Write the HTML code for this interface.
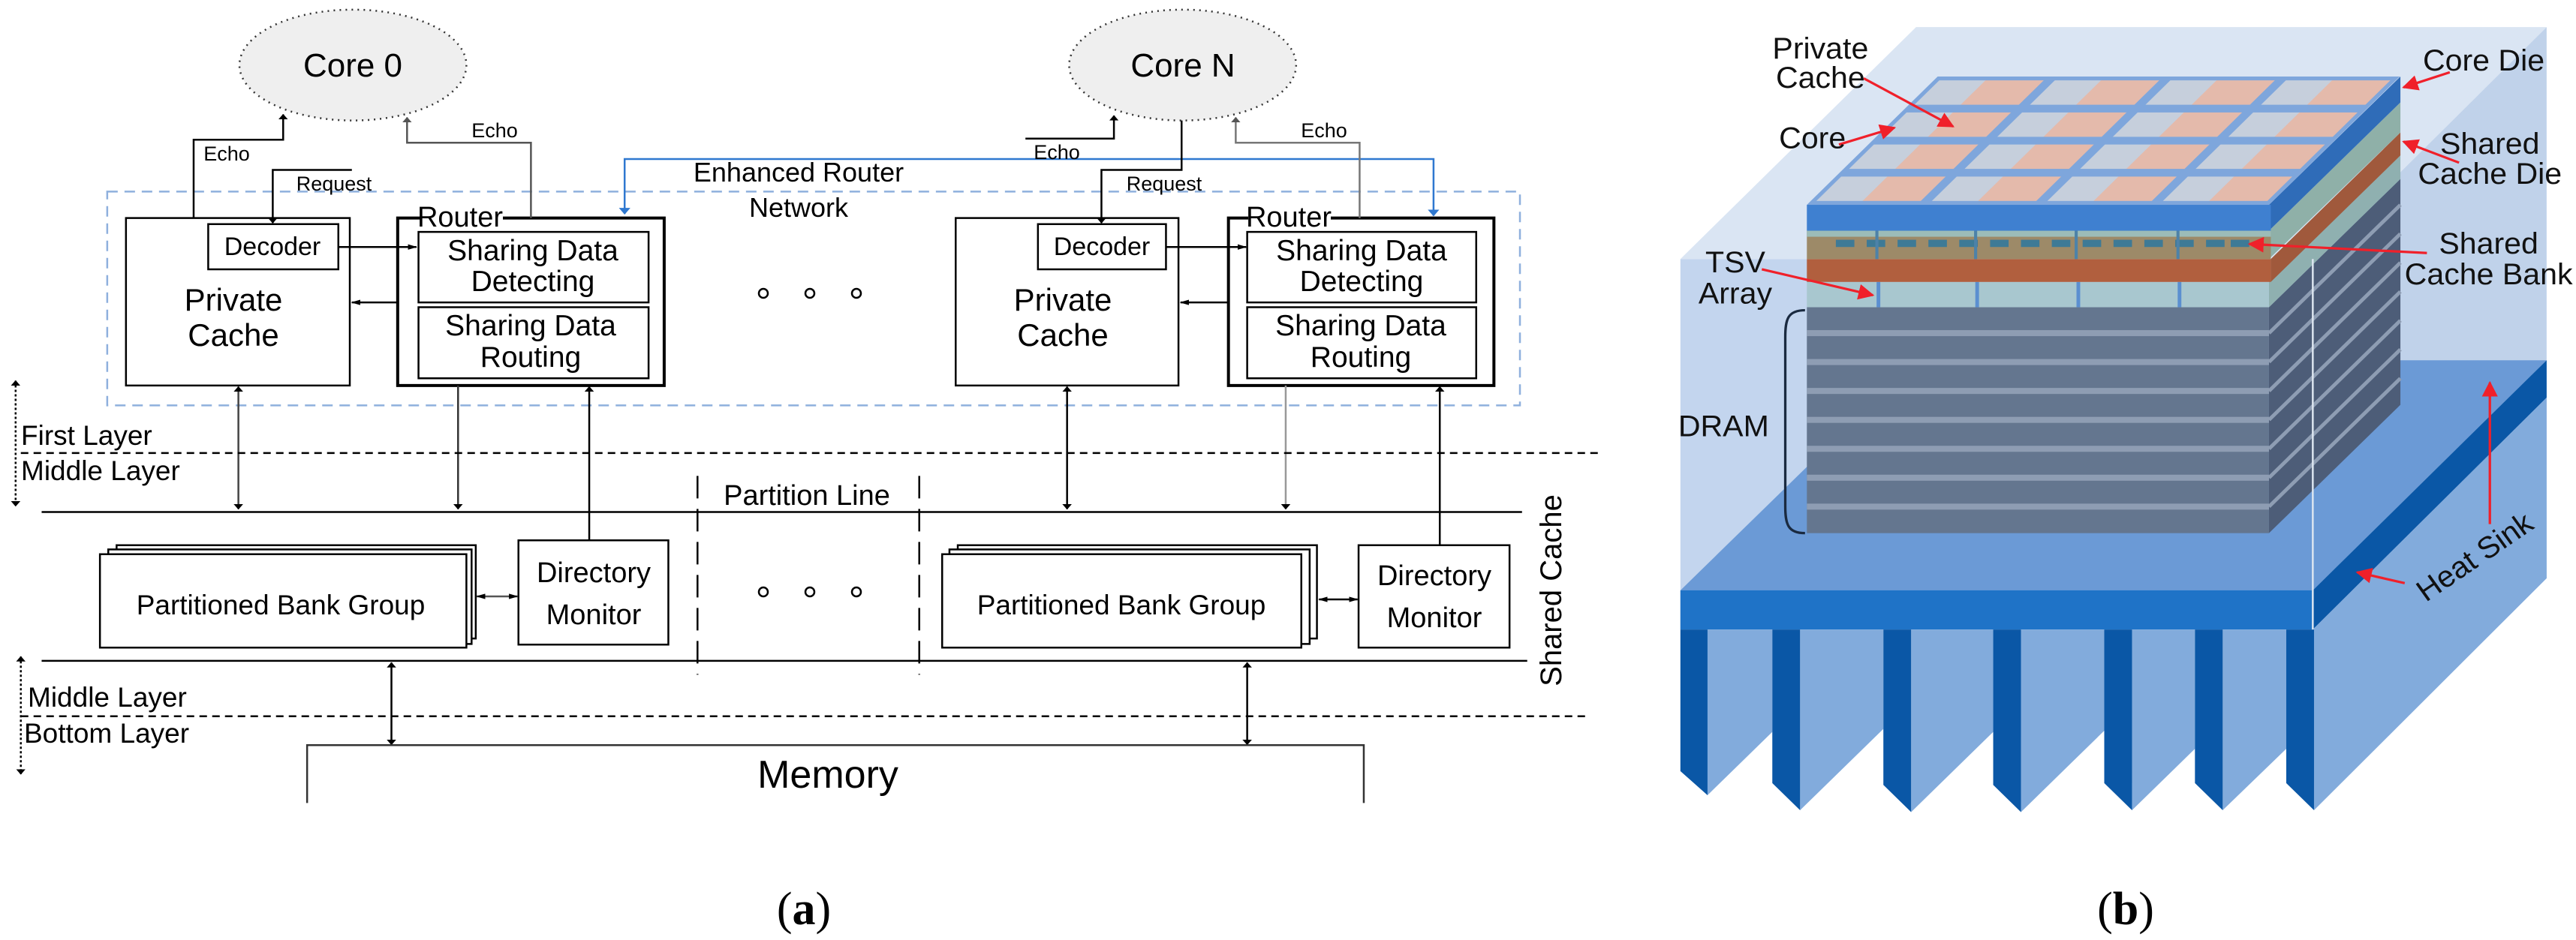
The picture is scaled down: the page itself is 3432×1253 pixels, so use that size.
<!DOCTYPE html>
<html><head><meta charset="utf-8"><style>
html,body{margin:0;padding:0;background:#fff}
svg{display:block}
.t{font-family:"Liberation Sans",sans-serif;fill:#000;text-anchor:middle}
</style></head><body>
<svg width="3432" height="1253" viewBox="0 0 3432 1253" xmlns="http://www.w3.org/2000/svg">
<defs>
<marker id="ah" viewBox="0 0 10 10" refX="9" refY="5" markerWidth="9" markerHeight="9" markerUnits="userSpaceOnUse" orient="auto-start-reverse"><path d="M0,0 L10,5 L0,10 z" fill="#000"/></marker>
<marker id="ag" viewBox="0 0 10 10" refX="9" refY="5" markerWidth="9" markerHeight="9" markerUnits="userSpaceOnUse" orient="auto-start-reverse"><path d="M0,0 L10,5 L0,10 z" fill="#555"/></marker>
<marker id="ab" viewBox="0 0 10 10" refX="9" refY="5" markerWidth="11" markerHeight="11" markerUnits="userSpaceOnUse" orient="auto-start-reverse"><path d="M0,0 L10,5 L0,10 z" fill="#2f78d0"/></marker>
<marker id="ar" viewBox="0 0 10 10" refX="9" refY="5" markerWidth="26" markerHeight="26" markerUnits="userSpaceOnUse" orient="auto"><path d="M0,0 L10,5 L0,10 z" fill="#f0202a"/></marker>
<pattern id="cell" patternUnits="userSpaceOnUse" width="0.25" height="0.25">
<rect x="0" y="0" width="0.25" height="0.25" fill="#7ea6dc"/>
<rect x="0.012" y="0.03" width="0.1" height="0.19" fill="#c6cfdc"/>
<rect x="0.112" y="0.03" width="0.126" height="0.19" fill="#e4baab"/>
</pattern>
</defs>

<!-- ===== (a) shapes in zoom coords ===== -->
<g transform="scale(1.387,0.803)" fill="none" stroke="#000" stroke-width="2.5">
<g vector-effect="non-scaling-stroke">
<ellipse cx="339" cy="108" rx="109" ry="92" fill="#efefef" stroke="#333" stroke-dasharray="2,6" vector-effect="non-scaling-stroke"/>
<ellipse cx="1136" cy="108" rx="109" ry="92" fill="#efefef" stroke="#333" stroke-dasharray="2,6" vector-effect="non-scaling-stroke"/>
<rect x="103" y="318" width="1357" height="355" stroke="#8fb0dd" stroke-dasharray="14,9" vector-effect="non-scaling-stroke"/>
<!-- left -->
<rect x="121" y="362" width="215" height="278" vector-effect="non-scaling-stroke"/>
<rect x="200" y="372" width="125" height="75" vector-effect="non-scaling-stroke"/>
<rect x="382" y="362" width="256" height="278" stroke-width="4" vector-effect="non-scaling-stroke"/>
<rect x="402" y="385" width="221" height="117" vector-effect="non-scaling-stroke"/>
<rect x="402" y="510" width="221" height="118" vector-effect="non-scaling-stroke"/>
<!-- right -->
<rect x="918" y="362" width="214" height="278" vector-effect="non-scaling-stroke"/>
<rect x="997" y="372" width="123" height="75" vector-effect="non-scaling-stroke"/>
<rect x="1180" y="362" width="255" height="278" stroke-width="4" vector-effect="non-scaling-stroke"/>
<rect x="1198" y="385" width="220" height="117" vector-effect="non-scaling-stroke"/>
<rect x="1198" y="510" width="220" height="118" vector-effect="non-scaling-stroke"/>
<!-- internal arrows -->
<line x1="325" y1="410" x2="400" y2="410" marker-end="url(#ah)" vector-effect="non-scaling-stroke"/>
<line x1="382" y1="502" x2="338" y2="502" marker-end="url(#ah)" vector-effect="non-scaling-stroke"/>
<line x1="1120" y1="410" x2="1197" y2="410" marker-end="url(#ah)" vector-effect="non-scaling-stroke"/>
<line x1="1180" y1="502" x2="1134" y2="502" marker-end="url(#ah)" vector-effect="non-scaling-stroke"/>
<!-- echo/request -->
<polyline points="186,362 186,232 272,232 272,190" marker-end="url(#ah)" vector-effect="non-scaling-stroke"/>
<polyline points="338,282 262,282 262,370" marker-end="url(#ah)" vector-effect="non-scaling-stroke"/>
<polyline points="510,362 510,237 391,237 391,195" stroke="#555" marker-end="url(#ag)" vector-effect="non-scaling-stroke"/>
<polyline points="600,355 600,264 1377,264 1377,358" stroke="#2f78d0" marker-start="url(#ab)" marker-end="url(#ab)" vector-effect="non-scaling-stroke"/>
<polyline points="985,230 1070,230 1070,192" marker-end="url(#ah)" vector-effect="non-scaling-stroke"/>
<polyline points="1135,200 1135,282 1058,282 1058,370" marker-end="url(#ah)" vector-effect="non-scaling-stroke"/>
<polyline points="1306,362 1306,237 1187,237 1187,195" stroke="#777" marker-end="url(#ag)" vector-effect="non-scaling-stroke"/>
<!-- verticals -->
<line x1="229" y1="642" x2="229" y2="845" stroke="#444" marker-start="url(#ah)" marker-end="url(#ah)" vector-effect="non-scaling-stroke"/>
<line x1="440" y1="640" x2="440" y2="845" stroke="#333" marker-end="url(#ah)" vector-effect="non-scaling-stroke"/>
<line x1="566" y1="897" x2="566" y2="642" marker-end="url(#ah)" vector-effect="non-scaling-stroke"/>
<line x1="1025" y1="642" x2="1025" y2="845" marker-start="url(#ah)" marker-end="url(#ah)" vector-effect="non-scaling-stroke"/>
<line x1="1235" y1="640" x2="1235" y2="845" stroke="#999" marker-end="url(#ah)" vector-effect="non-scaling-stroke"/>
<line x1="1383" y1="905" x2="1383" y2="642" marker-end="url(#ah)" vector-effect="non-scaling-stroke"/>
<!-- layer lines -->
<line x1="20" y1="752" x2="1535" y2="752" stroke-dasharray="10,7" vector-effect="non-scaling-stroke"/>
<line x1="40" y1="850" x2="1462" y2="850" vector-effect="non-scaling-stroke"/>
<line x1="40" y1="1097" x2="1467" y2="1097" vector-effect="non-scaling-stroke"/>
<line x1="20" y1="1189" x2="1525" y2="1189" stroke-dasharray="10,7" vector-effect="non-scaling-stroke"/>
<line x1="670" y1="790" x2="670" y2="1120" stroke-dasharray="30,14" vector-effect="non-scaling-stroke"/>
<line x1="883" y1="790" x2="883" y2="1120" stroke-dasharray="30,14" vector-effect="non-scaling-stroke"/>
<!-- bank groups -->
<rect x="112" y="905" width="345" height="155" fill="#fff" vector-effect="non-scaling-stroke"/>
<rect x="104" y="912" width="349" height="157" fill="#fff" vector-effect="non-scaling-stroke"/>
<rect x="96" y="920" width="352" height="155" fill="#fff" vector-effect="non-scaling-stroke"/>
<rect x="920" y="905" width="345" height="155" fill="#fff" vector-effect="non-scaling-stroke"/>
<rect x="912" y="912" width="346" height="157" fill="#fff" vector-effect="non-scaling-stroke"/>
<rect x="905" y="920" width="345" height="155" fill="#fff" vector-effect="non-scaling-stroke"/>
<rect x="498" y="897" width="144" height="173" vector-effect="non-scaling-stroke"/>
<rect x="1305" y="905" width="145" height="170" vector-effect="non-scaling-stroke"/>
<line x1="458" y1="990" x2="497" y2="990" stroke="#555" marker-start="url(#ah)" marker-end="url(#ah)" vector-effect="non-scaling-stroke"/>
<line x1="1267" y1="995" x2="1304" y2="995" marker-start="url(#ah)" marker-end="url(#ah)" vector-effect="non-scaling-stroke"/>
<line x1="376" y1="1100" x2="376" y2="1236" marker-start="url(#ah)" marker-end="url(#ah)" vector-effect="non-scaling-stroke"/>
<line x1="1198" y1="1100" x2="1198" y2="1236" marker-start="url(#ah)" marker-end="url(#ah)" vector-effect="non-scaling-stroke"/>
<line x1="15" y1="632" x2="15" y2="840" stroke-dasharray="3,3" marker-start="url(#ah)" marker-end="url(#ah)" vector-effect="non-scaling-stroke"/>
<line x1="20" y1="1090" x2="20" y2="1285" stroke-dasharray="3,3" marker-start="url(#ah)" marker-end="url(#ah)" vector-effect="non-scaling-stroke"/>
<polyline points="295,1333 295,1237 1310,1237 1310,1333" stroke="#333" vector-effect="non-scaling-stroke"/>
</g>
</g>
<g fill="none" stroke="#000" stroke-width="2.5">
<circle cx="1017" cy="391" r="6"/><circle cx="1079" cy="391" r="6"/><circle cx="1141" cy="391" r="6"/>
<circle cx="1017" cy="789" r="6"/><circle cx="1079" cy="789" r="6"/><circle cx="1141" cy="789" r="6"/>
</g>
<!-- router label backgrounds -->
<rect x="560" y="272" width="110" height="30" fill="#fff"/>
<rect x="1663" y="272" width="110" height="30" fill="#fff"/>

<!-- ===== (a) text ===== -->
<g class="t">
<text class="t" x="470" y="102" font-size="44">Core 0</text>
<text class="t" x="1576" y="102" font-size="44">Core N</text>
<text class="t" x="302" y="214" font-size="27">Echo</text>
<text class="t" x="445" y="254" font-size="27">Request</text>
<text class="t" x="659" y="183" font-size="27">Echo</text>
<text class="t" x="1408" y="212" font-size="27">Echo</text>
<text class="t" x="1551" y="254" font-size="27">Request</text>
<text class="t" x="1764" y="183" font-size="27">Echo</text>
<text class="t" x="1064" y="242" font-size="36">Enhanced Router</text>
<text class="t" x="1064" y="289" font-size="36">Network</text>
<text class="t" x="613" y="302" font-size="38">Router</text>
<text class="t" x="1717" y="302" font-size="38">Router</text>
<text class="t" x="363" y="340" font-size="34">Decoder</text>
<text class="t" x="1468" y="340" font-size="34">Decoder</text>
<text class="t" x="311" y="414" font-size="42">Private</text>
<text class="t" x="311" y="461" font-size="42">Cache</text>
<text class="t" x="1416" y="414" font-size="42">Private</text>
<text class="t" x="1416" y="461" font-size="42">Cache</text>
<text class="t" x="710" y="347" font-size="39">Sharing Data</text>
<text class="t" x="710" y="388" font-size="39">Detecting</text>
<text class="t" x="707" y="447" font-size="39">Sharing Data</text>
<text class="t" x="707" y="489" font-size="39">Routing</text>
<text class="t" x="1814" y="347" font-size="39">Sharing Data</text>
<text class="t" x="1814" y="388" font-size="39">Detecting</text>
<text class="t" x="1813" y="447" font-size="39">Sharing Data</text>
<text class="t" x="1813" y="489" font-size="39">Routing</text>
<text class="t" x="28" y="593" font-size="37" text-anchor="start" style="text-anchor:start">First Layer</text>
<text class="t" x="28" y="640" font-size="37" style="text-anchor:start">Middle Layer</text>
<text class="t" x="37" y="942" font-size="37" style="text-anchor:start">Middle Layer</text>
<text class="t" x="32" y="990" font-size="37" style="text-anchor:start">Bottom Layer</text>
<text class="t" x="1075" y="673" font-size="38">Partition Line</text>
<text class="t" x="374" y="819" font-size="37">Partitioned Bank Group</text>
<text class="t" x="1494" y="819" font-size="37">Partitioned Bank Group</text>
<text class="t" x="791" y="776" font-size="38">Directory</text>
<text class="t" x="791" y="832" font-size="38">Monitor</text>
<text class="t" x="1911" y="780" font-size="38">Directory</text>
<text class="t" x="1911" y="836" font-size="38">Monitor</text>
<text class="t" x="1103" y="1050" font-size="52">Memory</text>
<text class="t" x="0" y="0" font-size="40" transform="translate(2080,787) rotate(-90)">Shared Cache</text>
<text x="1071" y="1232" font-size="62" font-family="Liberation Serif,serif" text-anchor="middle">(<tspan font-weight="bold">a</tspan>)</text>
</g>

<!-- ===== (b) ===== -->
<g transform="translate(2150,0) scale(0.822,0.803)">
<polygon points="108,430 490,45 1512,45 1133,430" fill="#dae5f3"/>
<polygon points="1133,430 1512,45 1512,960 1133,1045" fill="#c0d2ea"/>
<rect x="108" y="430" width="1025" height="615" fill="#c3d5ee"/>
<polygon points="108,980 490,598 1512,598 1133,980" fill="#6b9ad6"/>
<rect x="108" y="980" width="1025" height="65" fill="#1f73c7"/>
<polygon points="1133,980 1512,598 1512,660 1133,1045" fill="#0a57a6"/>
<polygon points="1133,1045 1512,660 1512,960 1135,1345" fill="#82abdc"/>
<g>
<polygon points="152,1045 257,1045 257,1215 152,1320" fill="#82abdc"/>
<polygon points="108,1045 152,1045 152,1320 108,1280" fill="#0a57a6"/>
<polygon points="302,1045 437,1045 437,1210 302,1345" fill="#82abdc"/>
<polygon points="257,1045 302,1045 302,1345 257,1300" fill="#0a57a6"/>
<polygon points="482,1045 615,1045 615,1215 482,1348" fill="#82abdc"/>
<polygon points="437,1045 482,1045 482,1348 437,1303" fill="#0a57a6"/>
<polygon points="660,1045 795,1045 795,1213 660,1348" fill="#82abdc"/>
<polygon points="615,1045 660,1045 660,1348 615,1303" fill="#0a57a6"/>
<polygon points="840,1045 942,1045 942,1243 840,1345" fill="#82abdc"/>
<polygon points="795,1045 840,1045 840,1345 795,1300" fill="#0a57a6"/>
<polygon points="987,1045 1090,1045 1090,1243 987,1345" fill="#82abdc"/>
<polygon points="942,1045 987,1045 987,1345 942,1300" fill="#0a57a6"/>
<polygon points="1090,1045 1135,1045 1135,1345 1090,1300" fill="#0a57a6"/>
</g>
<!-- stack -->
<polygon points="1062,510 1275,297 1275,672 1062,885" fill="#4d5d78"/>
<rect x="313" y="510" width="749" height="375" fill="#64768f"/>
<g fill="#8e9db3">
<rect x="313" y="548" width="749" height="10"/><rect x="313" y="596" width="749" height="10"/>
<rect x="313" y="644" width="749" height="10"/><rect x="313" y="692" width="749" height="10"/>
<rect x="313" y="740" width="749" height="10"/><rect x="313" y="788" width="749" height="10"/>
<rect x="313" y="836" width="749" height="10"/>
</g>
<g stroke="#8e9db3" stroke-width="6">
<line x1="1062" y1="553" x2="1275" y2="340"/><line x1="1062" y1="601" x2="1275" y2="388"/>
<line x1="1062" y1="649" x2="1275" y2="436"/><line x1="1062" y1="697" x2="1275" y2="484"/>
<line x1="1062" y1="745" x2="1275" y2="532"/><line x1="1062" y1="793" x2="1275" y2="580"/>
<line x1="1062" y1="841" x2="1275" y2="628"/>
</g>
<polygon points="1062,468 1275,255 1275,297 1062,510" fill="#8fb0b0"/>
<rect x="313" y="468" width="749" height="42" fill="#a8c7cf"/>
<g fill="#5b8fd0"><rect x="426" y="468" width="6" height="42"/><rect x="586" y="468" width="6" height="42"/><rect x="750" y="468" width="6" height="42"/><rect x="914" y="468" width="6" height="42"/></g>
<polygon points="1065,430 1275,220 1275,258 1065,468" fill="#a0593c"/>
<rect x="313" y="430" width="752" height="38" fill="#b15f3e"/>
<polygon points="1062,383 1275,170 1275,220 1062,430" fill="#8fb0a8"/>
<rect x="313" y="383" width="752" height="47" fill="#9d8a68"/>
<rect x="313" y="383" width="752" height="10" fill="#9cbcb8"/>
<g fill="#3e7a96">
<rect x="360" y="398" width="30" height="12"/><rect x="410" y="398" width="30" height="12"/><rect x="460" y="398" width="30" height="12"/><rect x="510" y="398" width="30" height="12"/><rect x="560" y="398" width="30" height="12"/><rect x="610" y="398" width="30" height="12"/><rect x="660" y="398" width="30" height="12"/><rect x="710" y="398" width="30" height="12"/><rect x="760" y="398" width="30" height="12"/><rect x="810" y="398" width="30" height="12"/><rect x="860" y="398" width="30" height="12"/><rect x="910" y="398" width="30" height="12"/><rect x="960" y="398" width="30" height="12"/><rect x="1000" y="398" width="30" height="12"/>
</g>
<g fill="#4d82a8"><rect x="424" y="383" width="5" height="47"/><rect x="584" y="383" width="5" height="47"/><rect x="747" y="383" width="5" height="47"/><rect x="912" y="383" width="5" height="47"/></g>
<polygon points="1062,340 1275,127 1275,170 1062,383" fill="#2f6cb8"/>
<rect x="313" y="340" width="752" height="43" fill="#3f80d0"/>
<g transform="matrix(749,0,212,-213,313,340)">
<rect x="0" y="0" width="1" height="1" fill="url(#cell)"/>
</g>
<line x1="1133" y1="430" x2="1133" y2="1045" stroke="#dde6f0" stroke-width="3"/>
<path d="M310,515 C282,515 278,530 278,560 L278,840 C278,870 282,885 310,885" fill="none" stroke="#1a2a40" stroke-width="4"/>
<!-- red arrows -->
<g stroke="#f0202a" stroke-width="4" fill="none">
<line x1="405" y1="130" x2="550" y2="210" marker-end="url(#ar)"/>
<line x1="365" y1="240" x2="455" y2="212" marker-end="url(#ar)"/>
<line x1="1355" y1="120" x2="1280" y2="145" marker-end="url(#ar)"/>
<line x1="1370" y1="270" x2="1280" y2="235" marker-end="url(#ar)"/>
<line x1="1318" y1="420" x2="1030" y2="405" marker-end="url(#ar)"/>
<line x1="240" y1="447" x2="420" y2="490" marker-end="url(#ar)"/>
<line x1="1420" y1="870" x2="1420" y2="635" marker-end="url(#ar)"/>
<line x1="1282" y1="968" x2="1205" y2="950" marker-end="url(#ar)"/>
</g>
<g font-family="Liberation Sans,sans-serif" font-size="50" fill="#111" text-anchor="middle">
<text x="335" y="97">Private</text>
<text x="335" y="146">Cache</text>
<text x="322" y="246">Core</text>
<text x="1410" y="117">Core Die</text>
<text x="1420" y="255">Shared</text>
<text x="1420" y="305">Cache Die</text>
<text x="1418" y="421">Shared</text>
<text x="1418" y="472">Cache Bank</text>
<text x="197" y="452">TSV</text>
<text x="197" y="504">Array</text>
<text x="178" y="724">DRAM</text>
<text x="0" y="0" transform="translate(1405,938) rotate(-35)">Heat Sink</text>
</g>
</g>
<text x="2832" y="1232" font-size="62" font-family="Liberation Serif,serif" text-anchor="middle">(<tspan font-weight="bold">b</tspan>)</text>
</svg>
</body></html>
